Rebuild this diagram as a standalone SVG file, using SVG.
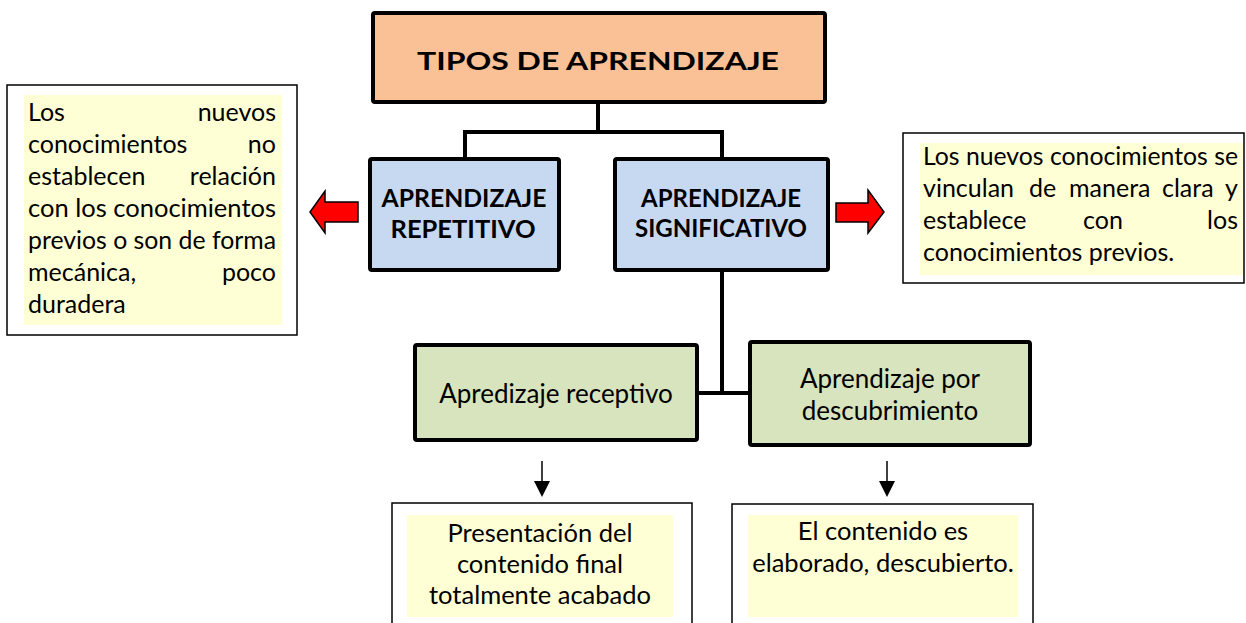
<svg xmlns="http://www.w3.org/2000/svg" width="1246" height="623" viewBox="0 0 1246 623">
<style>
.t{font-family:Lato,"Open Sans","Liberation Sans",sans-serif;fill:#000;font-size:25px}
.g{font-size:26px}
.s{font-size:25.5px}
.b{font-weight:bold}
.m{text-anchor:middle}
.e{text-anchor:end}
.box{stroke:#000;stroke-width:4}
.thin{fill:#fff;stroke:#000;stroke-width:1.5}
.yl{fill:#FFFFD6}
.conn{stroke:#000;stroke-width:4;fill:none}
.red{fill:#FF0000;stroke:#000;stroke-width:1.5;stroke-linejoin:miter}
.small{stroke:#000;stroke-width:1.5;fill:none}
</style>
<g id="connectors">
<path class="conn" d="M598,102 V132 M465,160 V132 H722 V160"/>
<path class="conn" d="M722,268 V393 M697,393 H750"/>
<polygon class="red" points="358,202 325,202 325,191 310,212 325,233 325,222 358,222"/>
<polygon class="red" points="836,203 868,203 868,190 884,212 868,233 868,222 836,222"/>
<line x1="542" y1="461" x2="542" y2="481" class="small"/>
<polygon points="534,481 550,481 542,497" fill="#000"/>
<line x1="887" y1="461" x2="887" y2="481" class="small"/>
<polygon points="879,481 895,481 887,497" fill="#000"/>
</g>
<g id="title">
<rect x="373" y="13" width="452" height="89" rx="2" fill="#F9C195" class="box"/>
<text class="t b m" x="598" y="70" font-size="41" textLength="362" lengthAdjust="spacingAndGlyphs">TIPOS DE APRENDIZAJE</text>
</g>
<g id="repetitivo">
<rect x="370" y="159" width="189" height="111" rx="2" fill="#C6D9F1" class="box"/>
<text class="t b m" x="464" y="207" font-size="27" textLength="165" lengthAdjust="spacingAndGlyphs">APRENDIZAJE</text>
<text class="t b m" x="463" y="238" font-size="27" textLength="145" lengthAdjust="spacingAndGlyphs">REPETITIVO</text>
</g>
<g id="significativo">
<rect x="615" y="159" width="213" height="111" rx="2" fill="#C6D9F1" class="box"/>
<text class="t b m" x="721" y="207" font-size="27" textLength="160" lengthAdjust="spacingAndGlyphs">APRENDIZAJE</text>
<text class="t b m" x="721" y="237" font-size="27" textLength="172" lengthAdjust="spacingAndGlyphs">SIGNIFICATIVO</text>
</g>
<g id="desc-repetitivo">
<rect x="7" y="85" width="290" height="250" class="thin"/>
<rect x="24" y="95" width="258" height="230" class="yl"/>
<text class="t" x="28" y="121">Los</text><text class="t e" x="276" y="121">nuevos</text>
<text class="t" x="28" y="153">conocimientos</text><text class="t e" x="276" y="153">no</text>
<text class="t" x="28" y="185">establecen</text><text class="t e" x="276" y="185">relación</text>
<text class="t" x="28" y="217" textLength="248" lengthAdjust="spacingAndGlyphs">con los conocimientos</text>
<text class="t" x="28" y="249" textLength="248" lengthAdjust="spacingAndGlyphs">previos o son de forma</text>
<text class="t" x="28" y="281">mecánica,</text><text class="t e" x="276" y="281">poco</text>
<text class="t" x="28" y="313">duradera</text>
</g>
<g id="desc-significativo">
<rect x="903" y="133" width="341" height="150" class="thin"/>
<rect x="920" y="143" width="323" height="132" class="yl"/>
<text class="t" x="923" y="165" textLength="315" lengthAdjust="spacingAndGlyphs">Los nuevos conocimientos se</text>
<text class="t" x="923" y="197">vinculan</text><text class="t" x="1029" y="197">de</text><text class="t" x="1069" y="197">manera</text><text class="t" x="1162" y="197">clara</text><text class="t e" x="1238" y="197">y</text>
<text class="t" x="923" y="229">establece</text><text class="t m" x="1103" y="229">con</text><text class="t e" x="1238" y="229">los</text>
<text class="t" x="923" y="261">conocimientos previos.</text>
</g>
<g id="receptivo">
<rect x="415" y="345" width="282" height="95" rx="2" fill="#D7E4BD" class="box"/>
<text class="t g m" x="556" y="403">Apredizaje receptivo</text>
</g>
<g id="descubrimiento">
<rect x="750" y="342" width="280" height="103" rx="2" fill="#D7E4BD" class="box"/>
<text class="t g m" x="890" y="388">Aprendizaje por</text>
<text class="t g m" x="890" y="420">descubrimiento</text>
</g>
<g id="desc-receptivo">
<rect x="392" y="503" width="300" height="130" class="thin"/>
<rect x="407" y="515" width="266" height="102" class="yl"/>
<text class="t s m" x="540" y="542">Presentación del</text>
<text class="t s m" x="540" y="573">contenido final</text>
<text class="t s m" x="540" y="604">totalmente acabado</text>
</g>
<g id="desc-descubrimiento">
<rect x="732" y="504" width="301" height="130" class="thin"/>
<rect x="748" y="515" width="270" height="102" class="yl"/>
<text class="t s m" x="883" y="540">El contenido es</text>
<text class="t s m" x="883" y="572">elaborado, descubierto.</text>
</g>
</svg>
